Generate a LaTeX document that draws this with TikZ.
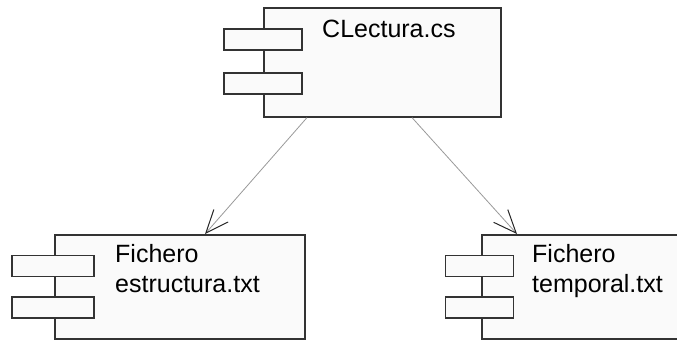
\documentclass[tikz,border=0pt]{standalone}
\usepackage{fontspec}
\setmainfont{Liberation Sans}
\usetikzlibrary{arrows.meta}

\begin{document}
\begin{tikzpicture}[x=1pt,y=-1pt,
  comp/.style={draw=black!80,fill=black!2,line width=1.6pt,anchor=north west,inner sep=0pt},
  comptab/.style={draw=black!80,fill=black!2,line width=1.6pt,minimum height=21pt,inner sep=0pt},
  comptext/.style={anchor=base west,align=left,inner sep=0pt,font=\fontsize{25}{30}\selectfont},
  depend/.style={draw=black!40,line width=0.8pt,-{Straight Barb[length=23pt,width=19pt,color=black!85,line width=1pt]}}]
\useasboundingbox (0,0) rectangle (677,340);
\clip (0,0) rectangle (677,340);
% CLectura.cs
\node[comp,minimum width=237pt,minimum height=109pt] (lectura) at (263,7) {};
\node[comptab,minimum width=78pt] (lecturatab1) at (263,39.5) {};
\node[comptab,minimum width=78pt] (lecturatab2) at (263,83.5) {};
\node[comptext] (lecturatxt) at (322,37) {CLectura.cs};
% Fichero estructura.txt
\node[comp,minimum width=250pt,minimum height=104pt] (estructura) at (54,234) {};
\node[comptab,minimum width=82pt] (estructuratab1) at (53,266) {};
\node[comptab,minimum width=82pt] (estructuratab2) at (53,307.5) {};
\node[comptext] (estructuratxt) at (115,292) {Fichero\\estructura.txt};
% Fichero temporal.txt
\node[comp,minimum width=230pt,minimum height=104pt] (temporal) at (481,234) {};
\node[comptab,minimum width=68pt] (temporaltab1) at (479.5,266) {};
\node[comptab,minimum width=68pt] (temporaltab2) at (479.5,307.5) {};
\node[comptext] (temporaltxt) at (532,292) {Fichero\\temporal.txt};
% dependencias
\draw[depend] ([xshift=44pt]lectura.south west) -- ([xshift=151pt]estructura.north west);
\draw[depend] ([xshift=149pt]lectura.south west) -- ([xshift=36pt]temporal.north west);
\end{tikzpicture}
\end{document}
